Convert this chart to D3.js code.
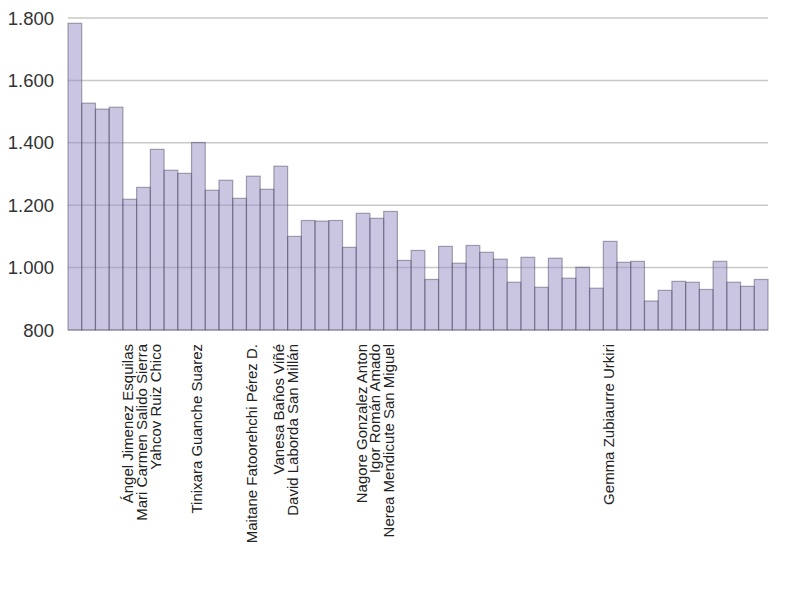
<!DOCTYPE html>
<html><head><meta charset="utf-8">
<script src="https://cdn.jsdelivr.net/npm/d3@7"></script>
<style>body{margin:0;background:#fff}</style>
</head><body>
<svg id="c" width="800" height="600"></svg>
<script>
const values = [1783,1527,1508,1514,1219,1257,1379,1312,1302,1401,1248,1280,1222,1293,1251,1325,1100,
1151,1149,1151,1065,1174,1158,1180,1023,1055,962,1068,1014,1071,1049,1027,953,1033,
937,1030,966,1001,934,1084,1017,1020,893,927,956,953,930,1020,953,940,962];
const labelMap = {4:"Ángel Jimenez Esquilas",5:"Mari Carmen Salido Sierra",6:"Yahcov Ruiz Chico",
9:"Tinixara Guanche Suarez",13:"Maitane Fatoorehchi Pérez D.",15:"Vanesa Baños Viñé",16:"David Laborda San Millán",
21:"Nagore Gonzalez Anton",22:"Igor Román Amado",23:"Nerea Mendicute San Miguel",39:"Gemma Zubiaurre Urkiri"};
const categories = values.map((v,i)=> labelMap[i] || "");
const yTicks = [800,1000,1200,1400,1600,1800];

const svg = d3.select("#c");
const mLeft=68,mRight=768,mTop=18,mBottom=330;
const x = d3.scaleBand().domain(d3.range(values.length)).range([mLeft,mRight]).padding(0);
const y = d3.scaleLinear().domain([800,1800]).range([mBottom,mTop]);
const fmt = d => d3.format(",")(d).replace(/,/g,".");

svg.append("g").selectAll("line").data(yTicks).join("line")
  .attr("x1",mLeft).attr("x2",mRight).attr("y1",d=>y(d)).attr("y2",d=>y(d))
  .attr("stroke","#c8c8c8").attr("stroke-width",1.5);

svg.append("g").selectAll("rect").data(values).join("rect")
  .attr("x",(d,i)=>x(i)).attr("width",x.bandwidth())
  .attr("y",d=>y(d)).attr("height",d=>mBottom-y(d))
  .attr("fill","rgb(150,140,195)").attr("fill-opacity",0.5)
  .attr("stroke","rgb(70,65,90)").attr("stroke-opacity",0.45).attr("stroke-width",1.2);

svg.append("g").selectAll("text").data(yTicks).join("text")
  .attr("x",54).attr("y",d=>y(d)).attr("dy","0.36em").attr("text-anchor","end")
  .attr("font-family","Liberation Sans, Arial, sans-serif").attr("font-size",18.5).attr("fill","#333")
  .text(fmt);

svg.append("g").selectAll("text").data(categories.map((c,i)=>({c,i})).filter(d=>d.c)).join("text")
  .attr("transform",d=>`translate(${x(d.i)+x.bandwidth()/2+3.5},344) rotate(-90)`)
  .attr("text-anchor","end")
  .attr("font-family","Liberation Sans, Arial, sans-serif").attr("font-size",15).attr("fill","#222")
  .text(d=>d.c);
</script>
</body></html>
